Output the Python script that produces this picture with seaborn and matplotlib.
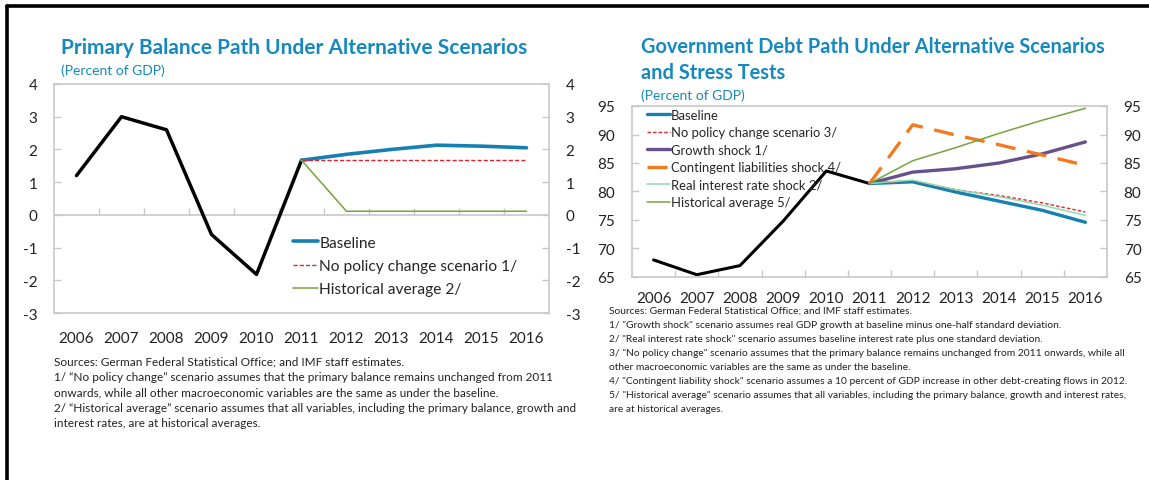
import matplotlib
matplotlib.use("Agg")
import matplotlib.pyplot as plt
from matplotlib.lines import Line2D
from matplotlib.ticker import FixedLocator, NullFormatter
import seaborn as sns

sns.set_theme(style="white")
plt.rcParams["font.family"] = ["Lato", "DejaVu Sans"]

# ---------------- data ----------------
years = list(range(2006, 2017))
proj_years = list(range(2011, 2017))

# Primary balance (percent of GDP)
pb_actual = [1.2, 3.0, 2.6, -0.6, -1.82, 1.67]
pb_baseline = [1.67, 1.85, 2.0, 2.13, 2.1, 2.05]
pb_no_policy = [1.67, 1.67, 1.67, 1.67, 1.67, 1.67]
pb_hist_avg = [1.67, 0.11, 0.11, 0.11, 0.11, 0.11]

# Government debt (percent of GDP)
debt_actual = [68.0, 65.4, 67.0, 74.8, 83.6, 81.4]
debt_baseline = [81.4, 81.7, 79.9, 78.3, 76.7, 74.6]
debt_no_policy = [81.4, 81.9, 80.3, 79.3, 78.0, 76.4]
debt_growth = [81.4, 83.4, 84.0, 85.0, 86.6, 88.7]
debt_contingent = [81.4, 91.7, 89.9, 88.2, 86.4, 84.6]
debt_real_rate = [81.4, 82.0, 80.3, 79.1, 77.6, 75.8]
debt_hist_avg = [81.4, 85.4, 87.7, 90.2, 92.5, 94.6]

left_title = "Primary Balance Path Under Alternative Scenarios"
right_title = "Government Debt Path Under Alternative Scenarios\nand Stress Tests"
subtitle = "(Percent of GDP)"

left_notes = [
    "Sources: German Federal Statistical Office; and IMF staff estimates.",
    "1/ \u201cNo policy change\u201d scenario assumes that the primary balance remains unchanged from 2011",
    "onwards, while all other macroeconomic variables are the same as under the baseline.",
    "2/ \u201cHistorical average\u201d scenario assumes that all variables, including the primary balance, growth and",
    "interest rates, are at historical averages.",
]
right_notes = [
    "Sources: German Federal Statistical Office; and IMF staff estimates.",
    "1/ \"Growth shock\" scenario assumes real GDP growth at baseline minus one-half standard deviation.",
    "2/ \"Real interest rate shock\" scenario assumes baseline interest rate plus one standard deviation.",
    "3/ \"No policy change\" scenario assumes that the primary balance remains unchanged from 2011 onwards, while all",
    "other macroeconomic variables are the same as under the baseline.",
    "4/ \"Contingent liability shock\" scenario assumes a 10 percent of GDP increase in other debt-creating flows in 2012.",
    "5/ \"Historical average\" scenario assumes that all variables, including the primary balance, growth and interest rates,",
    "are at historical averages.",
]

# ---------------- style ----------------
TITLE_BLUE = "#1589BF"
FRAME_GREY = "#C8C8C8"
BLUE = "#1780B3"
RED = "#E8202A"
GREEN = "#74A43A"
PURPLE = "#68508C"
ORANGE = "#F47A20"
MINT = "#8FDCAE"
TEXT = "#222222"

W, H = 1149, 481
fig = plt.figure(figsize=(W / 100, H / 100), dpi=100)


def fx(px):
    return px / W


def fy(py):
    return 1 - py / H


# outer frame (top and left edges)
fig.add_artist(Line2D([fx(7), 1.0], [fy(7), fy(7)], color="black", lw=2.6))
fig.add_artist(Line2D([fx(7), fx(7)], [fy(7), 0.0], color="black", lw=2.6))


def style_axes(ax, ylim, yticks):
    ax.set_xlim(2005.5, 2016.5)
    ax.set_ylim(*ylim)
    ax.set_yticks(yticks)
    ax.set_yticklabels([str(t) for t in yticks])
    for s in ax.spines.values():
        s.set_visible(True)
        s.set_color(FRAME_GREY)
        s.set_linewidth(1.2)
    ax.tick_params(axis="y", which="major", direction="in", length=5, width=1,
                   color=FRAME_GREY, left=True, right=True,
                   labelleft=True, labelright=True, labelsize=11, pad=12,
                   labelcolor=TEXT)
    ax.set_xlabel("")
    ax.set_ylabel("")
    ax.grid(False)


# ---------------- left chart ----------------
axL = fig.add_axes([fx(54), fy(314), fx(549 - 54), (314 - 85) / H])
sns.lineplot(x=years[:6], y=pb_actual, ax=axL, color="black", lw=2.5, legend=False)
sns.lineplot(x=proj_years, y=pb_baseline, ax=axL, color=BLUE, lw=2.6, label="Baseline")
sns.lineplot(x=proj_years, y=pb_no_policy, ax=axL, color=RED, lw=1.0,
             linestyle=(0, (3, 1.5)), label="No policy change scenario 1/")
sns.lineplot(x=proj_years, y=pb_hist_avg, ax=axL, color=GREEN, lw=1.1,
             label="Historical average 2/")
style_axes(axL, (-3, 4), list(range(-3, 5)))

# year labels below the frame
axL.set_xticks(years)
axL.set_xticklabels([str(y) for y in years])
axL.tick_params(axis="x", which="major", length=0, labelsize=11, pad=13,
                labelcolor=TEXT)

# zero line with category separators
zero_frac = 3 / 7
axL.axhline(0, color=FRAME_GREY, lw=1.2, zorder=1)
secL = axL.secondary_xaxis(zero_frac)
secL.set_xticks([y + 0.5 for y in years[:-1]])
secL.xaxis.set_major_formatter(NullFormatter())
secL.tick_params(axis="x", direction="in", length=5, width=1, color=FRAME_GREY)
secL.spines["bottom"].set_visible(False)
secL.spines["top"].set_visible(False)

axL.legend(loc="upper left", bbox_to_anchor=(0.47, 0.365), frameon=False,
           fontsize=11.2, handlelength=1.6, handletextpad=0.1,
           labelspacing=0.6, borderaxespad=0)

fig.text(fx(61), fy(48), left_title, fontsize=15, fontweight="bold",
         color=TITLE_BLUE, va="center", ha="left")
fig.text(fx(61), fy(71), subtitle, fontsize=10, color=TITLE_BLUE,
         va="center", ha="left")

for i, line in enumerate(left_notes):
    fig.text(fx(54), fy(362 + i * 15.4), line, fontsize=8.5, va="center",
             ha="left", color=TEXT)

# ---------------- right chart ----------------
axR = fig.add_axes([fx(632), fy(278), fx(1107 - 632), (278 - 107) / H])
sns.lineplot(x=years[:6], y=debt_actual, ax=axR, color="black", lw=2.2, legend=False)
sns.lineplot(x=proj_years, y=debt_baseline, ax=axR, color=BLUE, lw=2.4, label="Baseline")
sns.lineplot(x=proj_years, y=debt_no_policy, ax=axR, color=RED, lw=1.0,
             linestyle=(0, (2.5, 1.5)), label="No policy change scenario 3/")
sns.lineplot(x=proj_years, y=debt_growth, ax=axR, color=PURPLE, lw=2.4,
             label="Growth shock 1/")
sns.lineplot(x=proj_years, y=debt_contingent, ax=axR, color=ORANGE, lw=2.4,
             linestyle=(0, (6, 3.5)), label="Contingent liabilities shock 4/")
sns.lineplot(x=proj_years, y=debt_real_rate, ax=axR, color=MINT, lw=1.1,
             label="Real interest rate shock 2/")
sns.lineplot(x=proj_years, y=debt_hist_avg, ax=axR, color=GREEN, lw=1.1,
             label="Historical average 5/")
style_axes(axR, (65, 95), list(range(65, 96, 5)))

axR.set_xticks(years)
axR.set_xticklabels([str(y) for y in years])
axR.xaxis.set_minor_locator(FixedLocator([y + 0.5 for y in years[:-1]]))
axR.tick_params(axis="x", which="major", length=0, labelsize=11, pad=10,
                labelcolor=TEXT)
axR.tick_params(axis="x", which="minor", direction="in", length=5, width=1,
                color=FRAME_GREY, bottom=True)

axR.legend(loc="upper left", bbox_to_anchor=(0.02, 1.015), frameon=False,
           fontsize=9.4, handlelength=1.75, handletextpad=0.1,
           labelspacing=0.42, borderaxespad=0)

fig.text(fx(641), fy(60), right_title, fontsize=14.4, fontweight="bold",
         color=TITLE_BLUE, va="center", ha="left", linespacing=1.4)
fig.text(fx(641), fy(96), subtitle, fontsize=10, color=TITLE_BLUE,
         va="center", ha="left")

for i, line in enumerate(right_notes):
    fig.text(fx(609), fy(311 + i * 14.1), line, fontsize=7.4, va="center",
             ha="left", color=TEXT)

fig.savefig("out.png", dpi=100)
